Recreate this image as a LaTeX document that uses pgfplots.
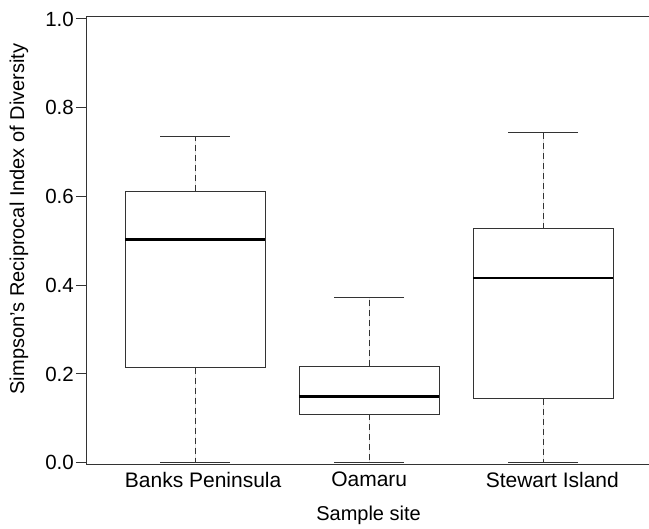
\documentclass[border=0pt]{standalone}
\usepackage{pgfplots}
\pgfplotsset{compat=1.18}
\usepgfplotslibrary{statistics}
\usepackage{fontspec}
\setmainfont{Liberation Sans}

\definecolor{boxline}{gray}{0.2}

% whisker stem dashed, cap solid
\pgfplotsset{
  boxplot/draw direction=y,
  boxplot/draw/lower whisker/.code={
    \draw[boxline, line width=0.9pt, dash pattern=on 6pt off 4pt]
      (boxplot box cs:\pgfplotsboxplotvalue{lower quartile},0.5)
      -- (boxplot box cs:\pgfplotsboxplotvalue{lower whisker},0.5);
    \draw[boxline, line width=0.9pt]
      (boxplot whisker cs:\pgfplotsboxplotvalue{lower whisker},0)
      -- (boxplot whisker cs:\pgfplotsboxplotvalue{lower whisker},1);
  },
  boxplot/draw/upper whisker/.code={
    \draw[boxline, line width=0.9pt, dash pattern=on 6pt off 4pt]
      (boxplot box cs:\pgfplotsboxplotvalue{upper quartile},0.5)
      -- (boxplot box cs:\pgfplotsboxplotvalue{upper whisker},0.5);
    \draw[boxline, line width=0.9pt]
      (boxplot whisker cs:\pgfplotsboxplotvalue{upper whisker},0)
      -- (boxplot whisker cs:\pgfplotsboxplotvalue{upper whisker},1);
  },
  boxplot/draw/median/.code={
    \draw[black, line width=2.8pt]
      (boxplot box cs:\pgfplotsboxplotvalue{median},0)
      -- (boxplot box cs:\pgfplotsboxplotvalue{median},1);
  },
}

\begin{document}
\fontsize{20}{24}\selectfont
\begin{tikzpicture}
\useasboundingbox (-87pt,-64.3pt) rectangle (562pt,464.7pt);
\begin{axis}[
    scale only axis,
    width=562pt, height=448.4pt,
    xmin=0.379, xmax=3.607,
    ymin=-0.0045, ymax=1.006,
    axis x line=box, axis y line=left,
    axis line style={-, black!80, line width=1pt},
    xticklabel pos=lower,
    xtick={1,2,3},
    xticklabels={\hspace*{16pt}Banks Peninsula, Oamaru, \hspace*{18pt}Stewart Island},
    major x tick style={draw=none},
    ytick={0,0.2,0.4,0.6,0.8,1.0},
    tick align=outside,
    major tick length=11pt,
    major y tick style={black!80, line width=1pt},
    /pgf/number format/assume math mode=true,
    yticklabel style={/pgf/number format/fixed, /pgf/number format/fixed zerofill,
        /pgf/number format/precision=1, inner sep=0pt, xshift=-2pt,
        font=\fontsize{20.5}{24}\selectfont},
    xticklabel style={inner sep=0pt, yshift=4pt, font=\fontsize{21}{24}\selectfont},
    label style={font=\fontsize{20}{24}\selectfont},
    xlabel={Sample site},
    ylabel={Simpson's Reciprocal Index of Diversity},
    xlabel style={at={(axis description cs:0.501,-0.113)}, anchor=center},
    ylabel style={at={(axis description cs:-0.121,0.548)}, anchor=center},
    boxplot/box extend=0.805,
    boxplot/whisker extend=0.4,
    clip=false,
]
\addplot[boxline, line width=0.9pt, fill=white, boxplot prepared={
    draw position=1, lower whisker=0, lower quartile=0.214,
    median=0.503, upper quartile=0.612, upper whisker=0.735}]
    coordinates {};
\addplot[boxline, line width=0.9pt, fill=white, boxplot prepared={
    draw position=2, lower whisker=0, lower quartile=0.109,
    median=0.150, upper quartile=0.218, upper whisker=0.372}]
    coordinates {};
\addplot[boxline, line width=0.9pt, fill=white, boxplot prepared={
    draw position=3, lower whisker=0, lower quartile=0.144,
    median=0.416, upper quartile=0.527, upper whisker=0.745}]
    coordinates {};
\end{axis}
\end{tikzpicture}
\end{document}
